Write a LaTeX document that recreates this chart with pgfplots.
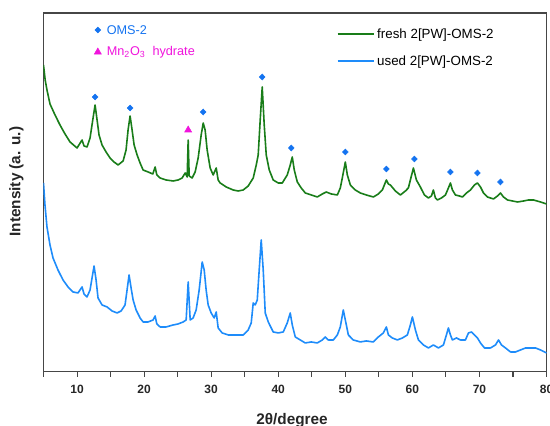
\documentclass[border=0pt]{standalone}
\usepackage{fontspec}
\setmainfont{Liberation Sans}
\usepackage{pgfplots}
\usepackage{pgfplotstable}
\pgfplotsset{compat=1.18}
\definecolor{fgreen}{RGB}{25,125,25}
\definecolor{ublue}{RGB}{30,140,250}
\definecolor{dblue}{RGB}{20,115,240}
\definecolor{mag}{RGB}{240,20,220}
\definecolor{framec}{RGB}{70,70,70}

\pgfplotstableread{
x y
5.00 307
5.25 292
5.52 282
5.97 268
6.72 257
7.46 247
8.21 238
8.96 230
10.00 224
10.75 232
11.04 226
11.49 225
11.94 234
12.39 254
12.69 267
12.99 252
13.28 237
13.73 227
14.33 220
14.93 214
15.52 210
16.12 207
16.87 211
17.31 222
17.61 242
17.91 256
18.21 242
18.51 227
18.96 217
19.40 209
19.85 202
20.60 200
21.30 198
21.64 205
21.90 197
22.39 194
23.28 192
24.33 191
25.07 192
25.67 194
26.12 199
26.42 195
26.57 232
26.72 196
27.16 194
27.61 200
28.06 214
28.51 237
28.81 249
29.10 242
29.40 222
29.85 204
30.30 197
30.75 204
31.04 192
31.34 189
32.24 185
33.28 182
34.03 181
34.78 182
35.52 186
36.27 194
36.72 207
37.01 217
37.31 252
37.61 285
37.91 247
38.21 217
38.66 202
39.25 192
40.00 189
40.60 189
41.34 197
41.79 207
42.09 215
42.39 202
42.84 190
43.43 184
44.03 179
44.93 177
45.82 175
46.57 178
47.16 180
47.91 178
48.81 177
49.25 184
49.55 194
50.00 210
50.30 197
50.75 187
51.49 182
52.24 179
53.13 177
54.18 175
54.93 178
55.52 182
55.82 187
56.12 192
56.42 188
56.72 187
57.46 181
58.21 177
58.96 181
59.40 184
59.85 196
60.15 204
60.60 192
61.19 185
61.79 177
62.39 174
62.84 176
63.13 182
63.43 174
63.73 172
64.33 174
64.93 177
65.37 184
65.67 189
65.97 182
66.42 177
67.01 176
67.46 175
68.06 179
68.66 182
69.25 187
69.70 189
70.15 185
70.60 179
71.19 175
72.09 173
72.69 176
73.13 179
73.58 175
74.18 172
74.93 171
75.67 170
76.57 171
77.31 172
78.06 172
79.10 170
80.00 168
}\fresh

\pgfplotstableread{
x y
5.00 189
5.22 167
5.52 145
5.97 127
6.42 114
7.16 102
7.91 92
8.66 85
9.40 80
10.15 79
10.75 85
11.04 78
11.49 75
11.94 82
12.24 94
12.54 106
12.84 92
13.13 74
13.73 67
14.48 65
15.22 61
15.97 59
16.57 61
17.16 67
17.46 82
17.76 97
18.06 84
18.36 72
18.81 62
19.40 54
19.85 50
20.60 50
21.34 52
21.64 56
21.90 48
22.39 45
23.28 45
24.33 47
25.07 48
25.82 50
26.27 52
26.57 90
26.87 52
27.31 54
27.76 62
28.21 82
28.66 110
28.96 102
29.25 82
29.55 67
30.00 59
30.45 54
30.75 60
31.04 44
31.64 39
32.54 37
33.58 37
34.78 37
35.52 42
35.97 49
36.27 69
36.57 67
36.87 72
37.16 102
37.46 132
37.76 102
38.06 59
38.51 50
39.25 40
40.00 39
40.75 40
41.34 49
41.79 59
42.09 47
42.54 35
43.28 32
44.03 29
44.93 30
45.82 29
46.57 32
47.01 35
47.46 32
48.21 32
48.81 37
49.25 45
49.70 62
50.00 52
50.45 37
51.19 32
52.24 30
53.13 31
54.18 30
54.93 35
55.67 39
56.12 45
56.42 37
57.01 34
57.76 32
58.51 34
59.25 37
59.70 47
60.00 55
60.45 42
60.90 32
61.64 27
62.39 24
63.13 27
63.88 24
64.63 27
65.07 37
65.37 44
65.67 37
65.97 32
66.57 34
67.16 32
67.91 32
68.36 39
68.81 40
69.25 37
69.70 34
70.15 29
70.75 24
71.64 24
72.39 27
72.84 32
73.28 27
73.88 24
74.63 20
75.37 20
76.12 22
76.87 24
77.61 24
78.36 24
79.10 22
80.00 19
}\used

\pgfplotstableread{
x y
12.69 275
17.91 264
28.81 260
37.61 295
41.94 224
50.00 220
56.12 203
60.30 213
65.67 200
69.70 199
73.13 190
}\omsmarks

\begin{document}
\begin{tikzpicture}
\begin{axis}[
  name=ax,
  scale only axis, width=377pt, height=269pt,
  xmin=5, xmax=80, ymin=0, ymax=359,
  xtick={10,20,...,80}, minor xtick={5,15,...,75},
  ytick=\empty,
  xtick pos=lower, tick align=outside,
  major tick length=3.5pt, minor tick length=3.5pt,
  axis line style={framec, line width=0.8pt},
  every tick/.style={framec, line width=0.8pt},
  /pgf/number format/assume math mode=true,
  xticklabel style={font=\fontsize{9}{10}\selectfont\bfseries, text=black!85, yshift=-3pt},
  xlabel={2θ/degree}, ylabel={Intensity (a. u.)},
  label style={font=\fontsize{11.5}{13}\selectfont\bfseries, text=black!85},
  xlabel style={at={(rel axis cs:0.494,0)}, anchor=north, yshift=-31pt, inner sep=0pt},
  ylabel style={at={(rel axis cs:-0.039,0.53)}, anchor=south, inner sep=0pt},
  legend style={at={(rel axis cs:0.582,0.965)}, anchor=north west, draw=none, fill=none,
    font=\fontsize{10}{12}\selectfont, row sep=7.5pt, inner sep=0pt},
  legend cell align=left,
  legend image code/.code={\draw[#1] (0pt,0pt) -- (27pt,0pt);},
]
\addlegendimage{draw=fgreen, line width=1.5pt}
\addlegendentry{fresh 2[PW]-OMS-2}
\addlegendimage{draw=ublue, line width=1.5pt}
\addlegendentry{used 2[PW]-OMS-2}
\addplot[fgreen, line width=1.2pt, line join=round, forget plot] table[x=x,y=y] {\fresh};
\addplot[ublue, line width=1.2pt, line join=round, forget plot] table[x=x,y=y] {\used};
\addplot[only marks, mark=diamond*, mark size=2.2pt, mark options={dblue, xscale=1.3}, forget plot] table[x=x,y=y] {\omsmarks};
\addplot[only marks, mark=triangle*, mark size=3pt, mark options={mag}, forget plot] coordinates {(26.57,242)};
\addplot[only marks, mark=diamond*, mark size=2.2pt, mark options={dblue, xscale=1.3}, forget plot] coordinates {(13.1,342)};
\addplot[only marks, mark=triangle*, mark size=3pt, mark options={mag}, forget plot] coordinates {(13.1,320)};
\node[anchor=west, inner sep=0pt, text=dblue, font=\fontsize{9.5}{11}\selectfont] at (axis cs:14.4,342) {OMS-2};
\node[anchor=west, inner sep=0pt, text=mag, font=\fontsize{9.5}{11}\selectfont] at (axis cs:14.4,320) {Mn\textsubscript{2}O\textsubscript{3}\ \ hydrate};
\end{axis}
\pgfresetboundingbox
\path[use as bounding box] ([xshift=-32.6pt,yshift=-40.5pt]ax.south west) rectangle ([xshift=2.6pt,yshift=9.75pt]ax.north east);
\end{tikzpicture}
\end{document}
